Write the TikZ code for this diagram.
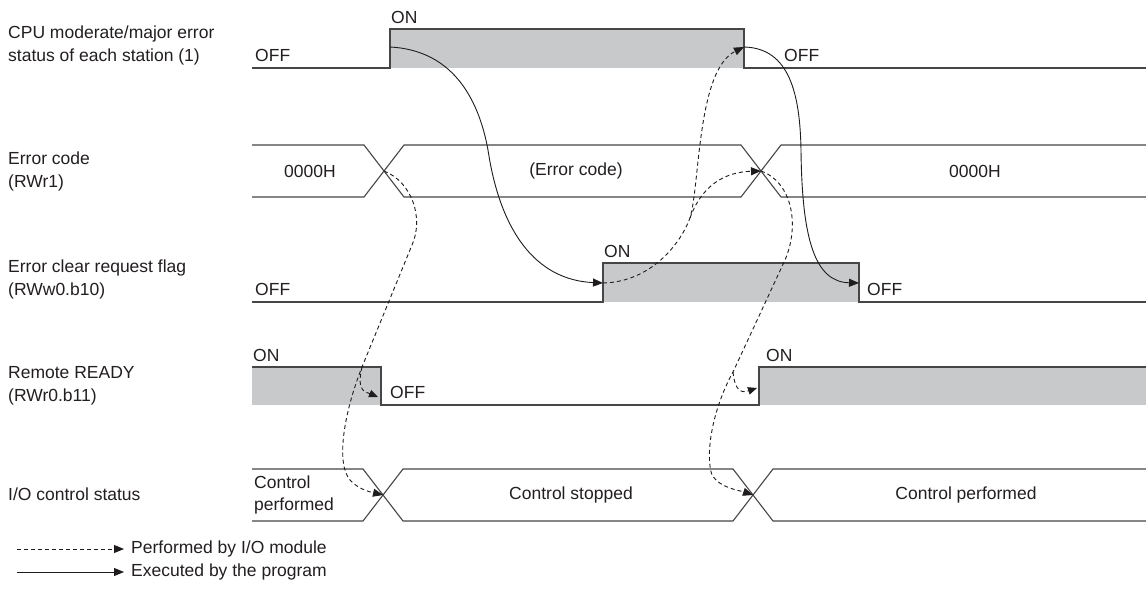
\documentclass[tikz,border=0pt]{standalone}
\usepackage{fontspec}
\setmainfont{Liberation Sans}
\usetikzlibrary{arrows.meta}
\definecolor{sigline}{RGB}{70,70,70}
\definecolor{sigfill}{RGB}{200,201,203}
\definecolor{arrowc}{RGB}{30,28,28}
\definecolor{txtc}{RGB}{35,31,32}
\begin{document}
\begin{tikzpicture}[x=1pt,y=-1pt,
  font=\fontsize{17.5}{23}\selectfont,
  sig/.style={draw=sigline, line width=1.3pt, line join=miter},
  bus/.style={draw=sigline, line width=1.1pt, line join=miter},
  gfill/.style={fill=sigfill},
  txt/.style={inner sep=0pt, text=txtc},
  lbl/.style={txt, anchor=west, align=left},
  prog/.style={draw=arrowc, line width=0.9pt, -{Triangle[length=10pt,width=8pt]}},
  iom/.style={prog, dash pattern=on 4pt off 3pt},
  hook/.style={iom, -{Triangle[length=9pt,width=7.5pt]}}]
\useasboundingbox (0,0) rectangle (1146,592);
\fill[white] (0,0) rectangle (1146,592);

% ---- row labels
\node[lbl] (l1) at (8,45) {CPU moderate/major error\\status of each station (1)};
\node[lbl] (l2) at (8,171) {Error code\\(RWr1)};
\node[lbl] (l3) at (8,279) {Error clear request flag\\(RWw0.b10)};
\node[lbl] (l4) at (8,386) {Remote READY\\(RWr0.b11)};
\node[lbl] (l5) at (8,494) {I/O control status};

% ---- signal 1: CPU error status
\fill[gfill] (390,29) rectangle (744,68);
\draw[sig] (252,68) -- (390,68) -- (390,29) -- (744,29) -- (744,68) -- (1146,68);
\node[lbl] (s1off) at (255,55) {OFF};
\node[lbl] (s1on) at (391,17) {ON};
\node[lbl] (s1off2) at (784,55) {OFF};

% ---- signal 2: error code bus
\draw[bus] (252,145) -- (364,145) -- (404,197) -- (741,197) -- (781,145) -- (1146,145);
\draw[bus] (252,197) -- (364,197) -- (404,145) -- (741,145) -- (781,197) -- (1146,197);
\node[txt] (s2a) at (310,171) {0000H};
\node[txt] (s2b) at (576,171) {(Error code)};
\node[txt] (s2c) at (975,171) {0000H};

% ---- signal 3: error clear request flag
\fill[gfill] (603,263) rectangle (859,302);
\draw[sig] (252,302) -- (603,302) -- (603,263) -- (859,263) -- (859,302) -- (1146,302);
\node[lbl] (s3off) at (255,289) {OFF};
\node[lbl] (s3on) at (604,251) {ON};
\node[lbl] (s3off2) at (867,289) {OFF};

% ---- signal 4: remote READY
\fill[gfill] (252,367) rectangle (381,405);
\fill[gfill] (759,367) rectangle (1146,405);
\draw[sig] (252,367) -- (381,367) -- (381,405) -- (759,405) -- (759,367) -- (1146,367);
\node[lbl] (s4on) at (253,355) {ON};
\node[lbl] (s4off) at (390,392) {OFF};
\node[lbl] (s4on2) at (766,355) {ON};

% ---- signal 5: I/O control status bus
\draw[bus] (252,469) -- (363,469) -- (403,521) -- (733,521) -- (773,469) -- (1146,469);
\draw[bus] (252,521) -- (363,521) -- (403,469) -- (733,469) -- (773,521) -- (1146,521);
\node[lbl, font=\fontsize{17.5}{22}\selectfont] (s5a) at (254,495) {Control\\performed};
\node[txt] (s5b) at (571,495) {Control stopped};
\node[txt] (s5c) at (966,495) {Control performed};

% ---- event points
\coordinate (e1r) at (390,47);   % CPU error rises
\coordinate (e1f) at (744,47);   % CPU error falls
\coordinate (x2a) at (384,171);  % error code change 1
\coordinate (x2b) at (761,171);  % error code change 2
\coordinate (e3r) at (603,283);  % clear flag rises
\coordinate (e3f) at (859,283);  % clear flag falls
\coordinate (e4f) at (378,397);  % READY falls
\coordinate (e4r) at (757,388);  % READY rises
\coordinate (x5a) at (383,495);  % I/O change 1
\coordinate (x5b) at (753,495);  % I/O change 2
\coordinate (jl1) at (412,245);
\coordinate (jl2) at (362,367);
\coordinate (jr1) at (690,218);
\coordinate (jr2) at (785,260);
\coordinate (jr3) at (733,372);

% ---- program actions (solid)
\draw[prog] (e1r) .. controls (450,50) and (478,95) .. (488,150)
            .. controls (500,230) and (535,280) .. (e3r);
\draw[prog] (e1f) .. controls (790,48) and (800,95) .. (801,150)
            .. controls (802,240) and (815,282) .. (e3f);

% ---- module actions (dashed)
\draw[iom] (e3r) .. controls (650,282) and (680,245) .. (jr1)
            .. controls (700,185) and (697,70) .. (e1f);
\draw[iom] (jr1) .. controls (702,185) and (725,172) .. (x2b);

\draw[iom] (x2a) .. controls (412,182) and (424,218) .. (jl1) -- (jl2)
            .. controls (345,410) and (335,462) .. (350,480)
            .. controls (358,489) and (370,492) .. (x5a);
\draw[hook] (jl2) .. controls (356,392) and (366,392) .. (e4f);

\draw[iom] (x2b) .. controls (792,182) and (800,225) .. (jr2) -- (jr3)
            .. controls (712,410) and (705,455) .. (712,475)
            .. controls (720,488) and (738,490) .. (x5b);
\draw[hook] (jr3) .. controls (735,392) and (742,393) .. (e4r);

% ---- legend
\coordinate (lga) at (17,549);
\coordinate (lgb) at (124,549);
\coordinate (lgc) at (17,572);
\coordinate (lgd) at (124,572);
\draw[iom] (lga) -- (lgb);
\draw[prog] (lgc) -- (lgd);
\node[lbl] (lgt1) at (131,549) {Performed by I/O module};
\node[lbl] (lgt2) at (131,572) {Executed by the program};
\end{tikzpicture}
\end{document}
